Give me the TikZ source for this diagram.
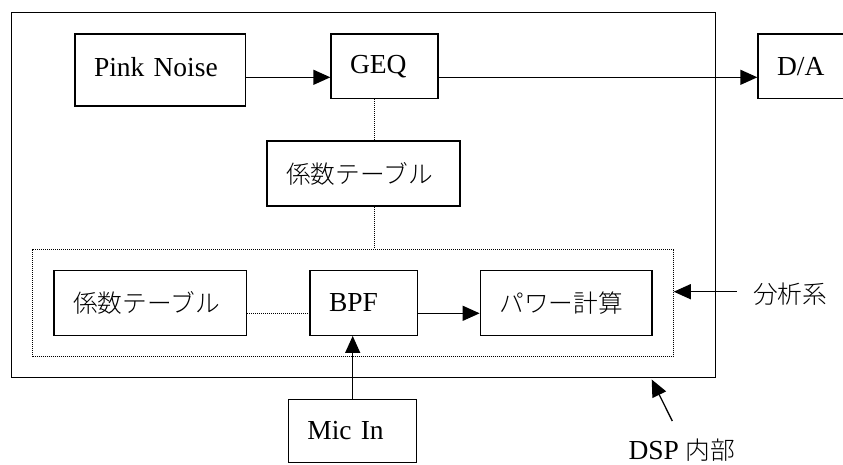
\documentclass[tikz,border=0pt]{standalone}
\usepackage{fontspec}
\setmainfont{Liberation Serif}
\newfontfamily\jpfont{Noto Sans CJK JP}[UprightFont={* Light}]
\newcommand\jp[1]{{\jpfont\fontsize{24.7}{30}\selectfont #1}}
\usetikzlibrary{arrows.meta}
\begin{document}
\begin{tikzpicture}[x=1pt,y=-1pt,
  font=\fontsize{27.5}{32}\selectfont,
  blk/.style={draw, line width=1.3pt, inner xsep=19pt, inner ysep=0pt, align=left},
  arr/.style={line width=1.3pt, -{Triangle[length=17pt,width=15pt]}},
  dot/.style={line width=0.9pt, dash pattern=on 1pt off 1pt},
]
\useasboundingbox (0,0) rectangle (843,464);

% DSP frame and the analysis group
\node[draw, line width=1.5pt, minimum width=703.6pt, minimum height=365pt, inner sep=0pt] (dsp) at (363.5,195.2) {};
\node[dot, draw, minimum width=640.6pt, minimum height=107.7pt, inner sep=0pt] (ana) at (353,302.85) {};

% blocks
\node[blk, text width=132.7pt, minimum height=72pt, text depth=7pt] (pn) at (160.35,70) {Pink Noise};
\node[blk, text width=69pt,    minimum height=64.7pt] (geq)  at (384.5,66.35) {GEQ};
\node[blk, text width=62pt,    minimum height=64.7pt] (da)   at (808,66.35)   {D/A};
\node[blk, text width=155pt,   minimum height=65pt]   (tbl1) at (363.5,173.5) {\jp{係数テーブル}};
\node[blk, text width=154.7pt, minimum height=64.6pt] (tbl2) at (150.35,303)  {\jp{係数テーブル}};
\node[blk, text width=69.3pt,  minimum height=64.6pt] (bpf)  at (363.65,303)  {BPF};
\node[blk, text width=133.7pt, minimum height=64.6pt] (pwr)  at (566.15,303)  {\jp{パワー計算}};
\node[blk, text width=90.4pt,  minimum height=63.4pt] (mic)  at (352.5,431)   {Mic In};

% rails for the connectors
\coordinate (rowtop) at (0,77.3);
\coordinate (rowbot) at (0,313.3);
\coordinate (colmid) at (374,0);
\coordinate (colmic) at (352.7,0);

\draw[arr] (pn.east |- rowtop) -- (geq.west |- rowtop);
\draw[arr] (geq.east |- rowtop) -- (da.west |- rowtop);
\draw[dot] (geq.south -| colmid) -- (tbl1.north -| colmid);
\draw[dot] (tbl1.south -| colmid) -- (ana.north -| colmid);
\draw[dot] (tbl2.east |- rowbot) -- (bpf.west |- rowbot);
\draw[arr] (bpf.east |- rowbot) -- (pwr.west |- rowbot);
\draw[arr] (mic.north -| colmic) -- (bpf.south -| colmic);

% callouts
\node[anchor=west, inner sep=0pt] (analbl) at (753,294) {\jp{分析系}};
\coordinate (anatail) at (736.7,291.7);
\draw[arr] (anatail) -- (anatail -| ana.east);

\node[anchor=base west, inner sep=0pt] (dsplbl) at (628.3,459.3) {DSP \jp{内部}};
\coordinate (dsptail) at (672.3,421);
\coordinate (dsptip) at (651.7,379.5);
\draw[arr] (dsptail) -- (dsptip);
\end{tikzpicture}
\end{document}
